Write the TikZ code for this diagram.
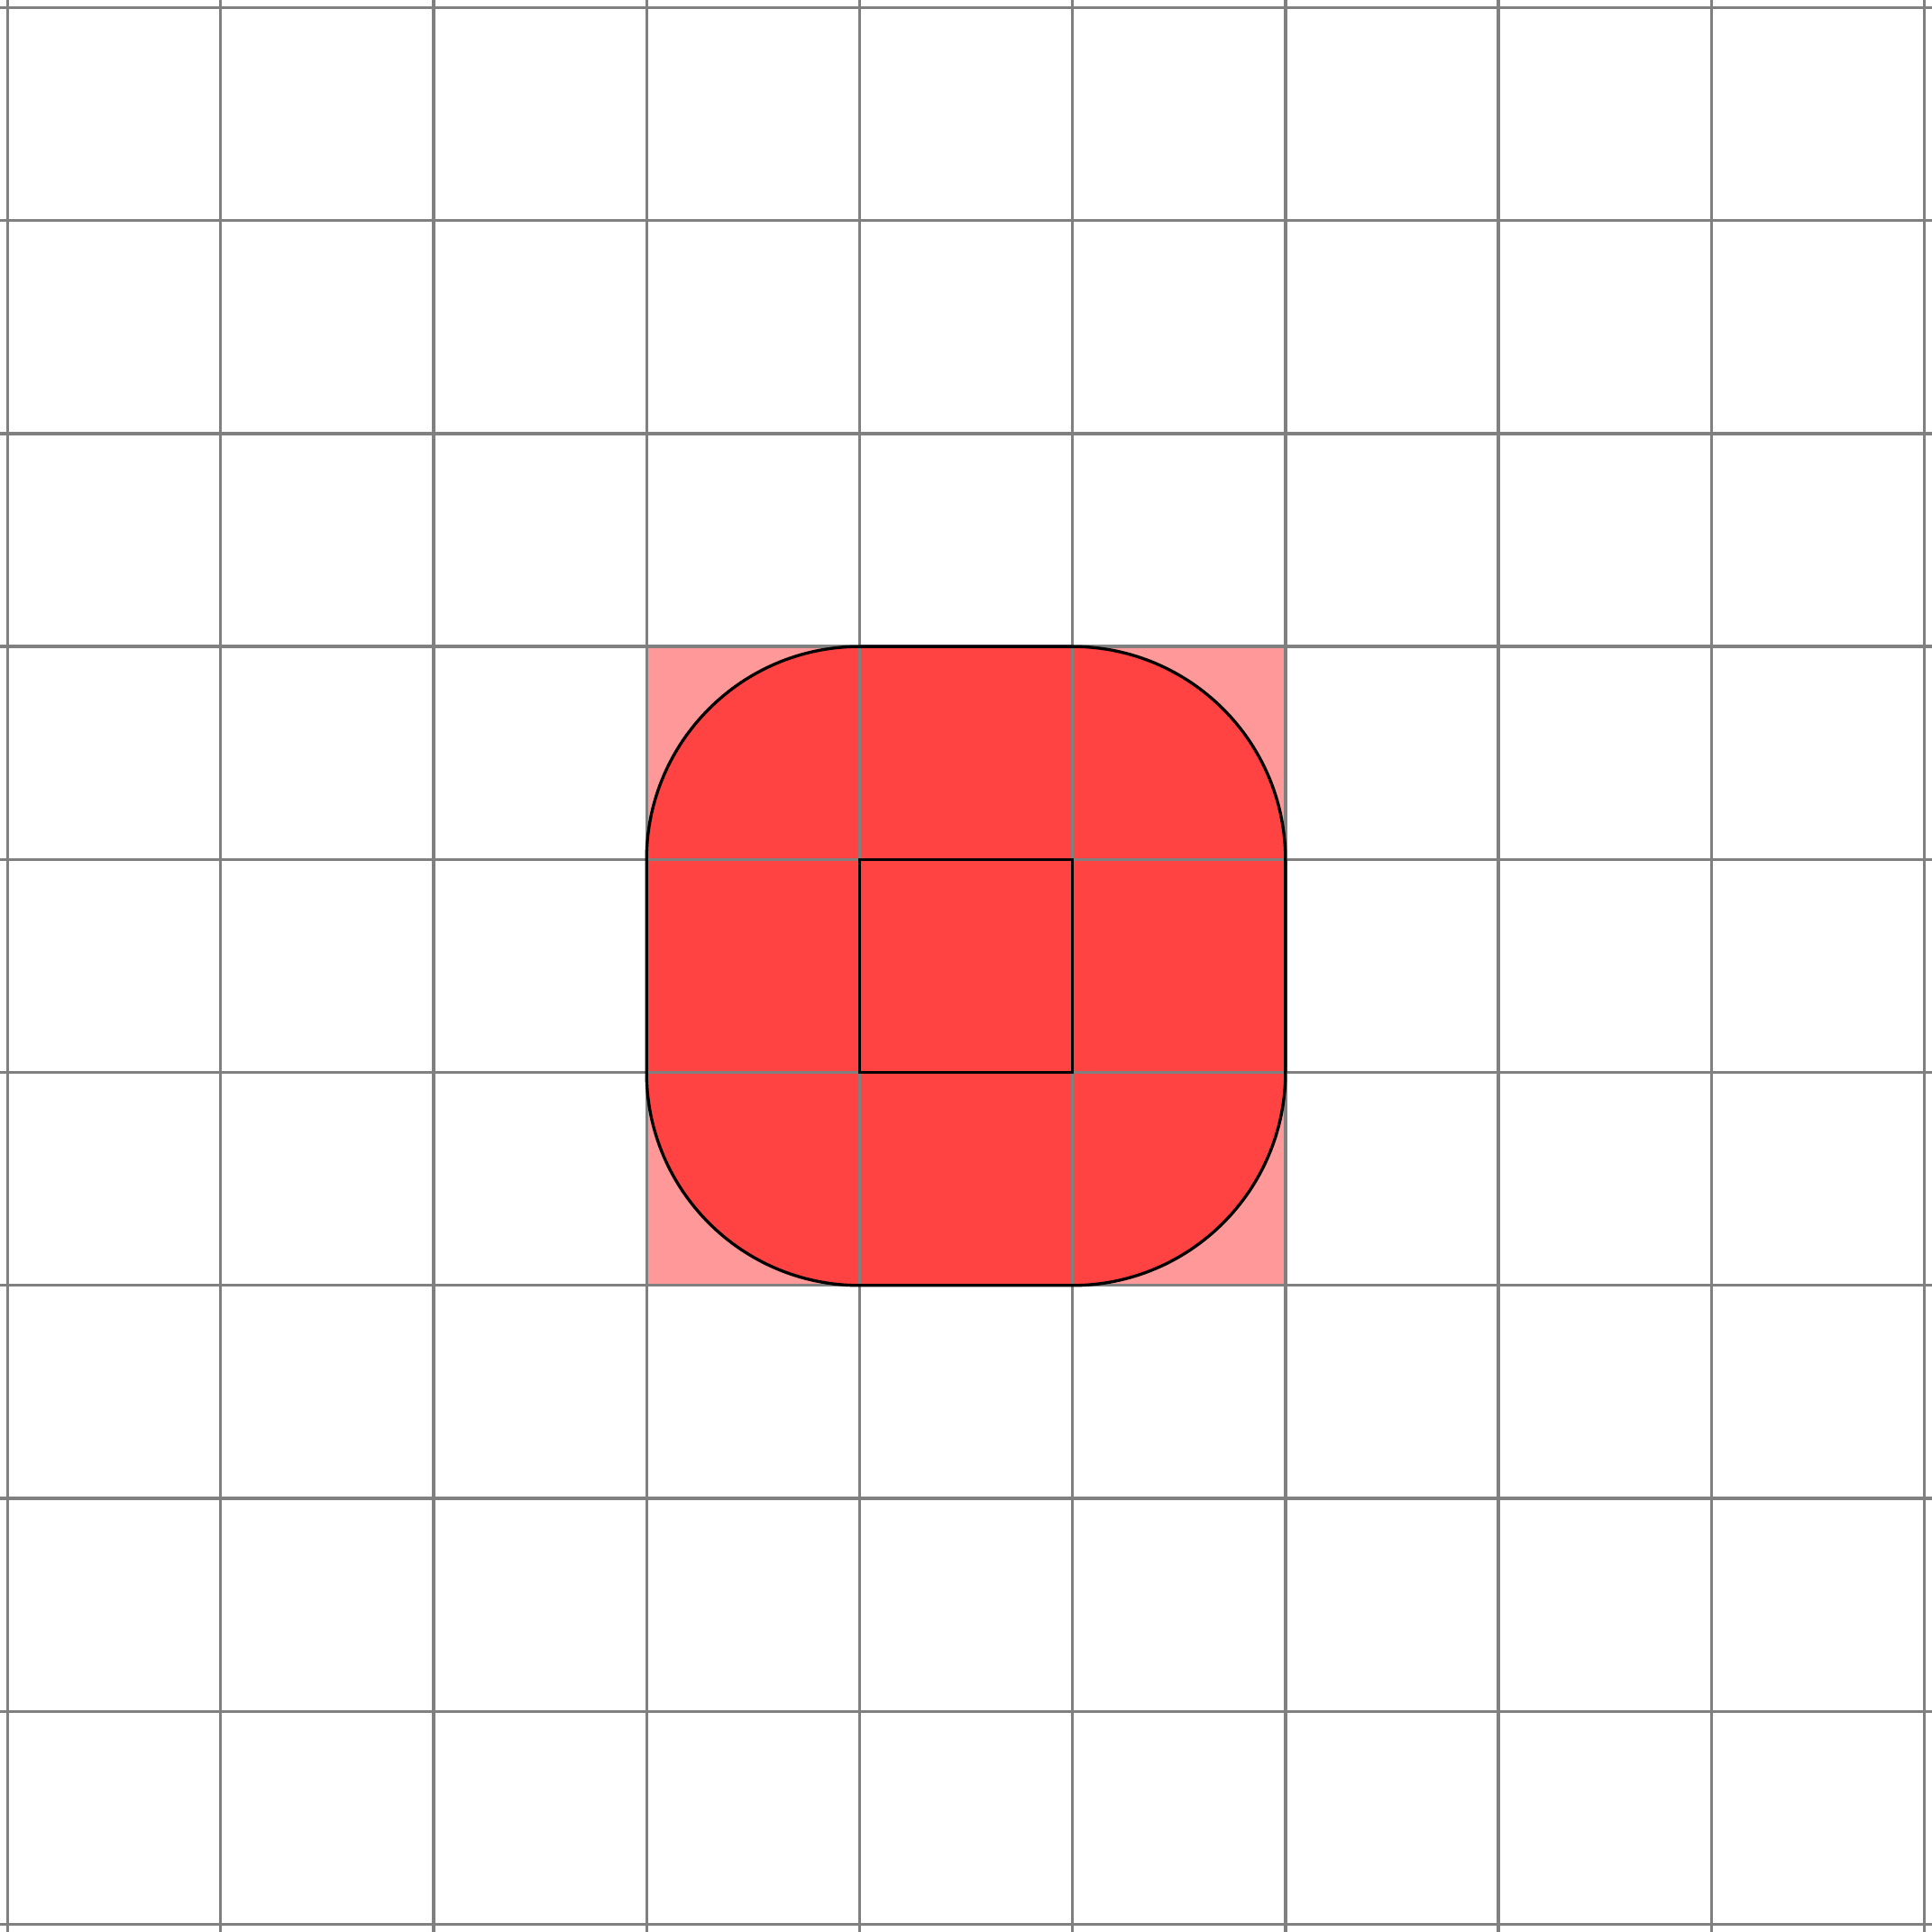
\documentclass[tikz,border=0pt]{standalone}
\definecolor{tilered}{HTML}{FF4242}
\definecolor{tilepink}{HTML}{FF9999}
\begin{document}
\begin{tikzpicture}[
      gridline/.style={draw=gray, line width=0.4pt},
      outline/.style={draw=black, line width=0.4pt},
      slice/.style={rounded corners=1cm}]
   \useasboundingbox (-0.036,-0.036) rectangle (9.036,9.036);

   \begin{scope}[name prefix = tile-]
      \coordinate (sw) at (3, 3);
      \coordinate (ne) at (6, 6);
      \coordinate (in-sw) at (4, 4);
      \coordinate (in-ne) at (5, 5);
      \fill[tilepink] (sw) rectangle (ne);
      \fill[tilered, slice] (sw) rectangle (ne);
   \end{scope}

   \draw[gridline, step=1] (-0.05, -0.05) grid (9.05, 9.05);

   \begin{scope}
      \draw[outline, slice] (tile-sw) rectangle (tile-ne);
      \draw[outline] (tile-in-sw) rectangle (tile-in-ne);
   \end{scope}
\end{tikzpicture}
\end{document}
